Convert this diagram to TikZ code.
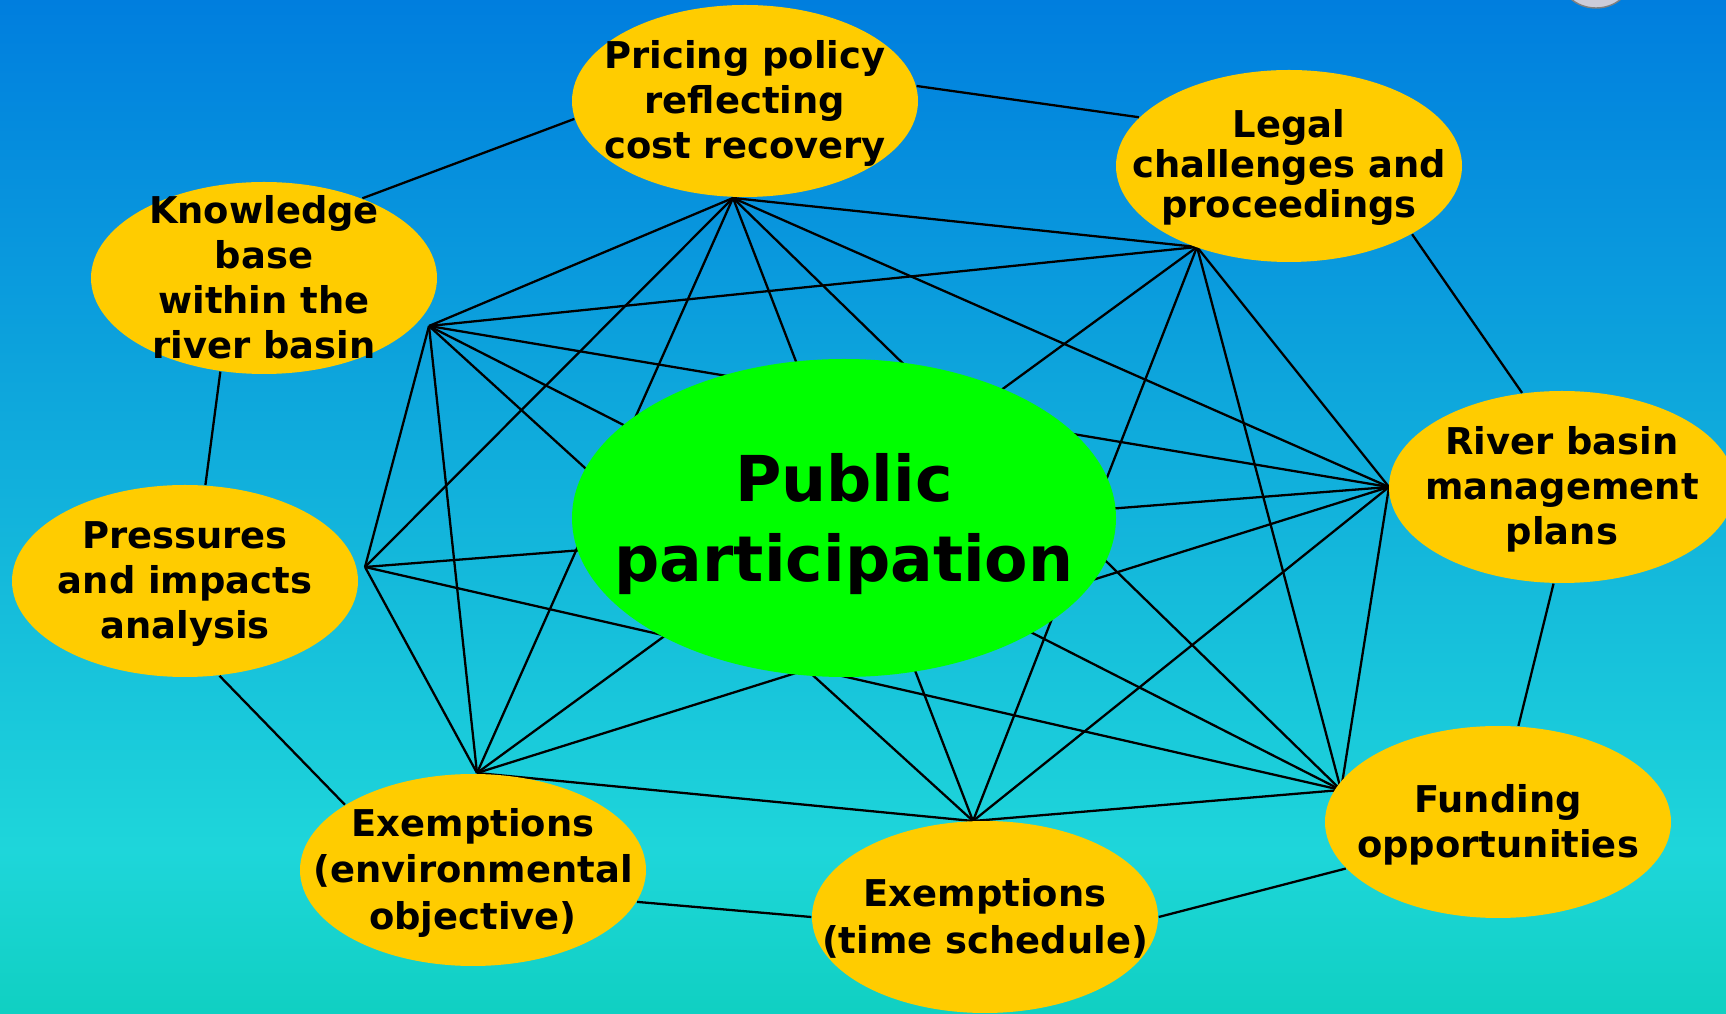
\documentclass[tikz,border=0pt]{standalone}
\usepackage{fontspec}
\setmainfont{DejaVu Sans}
\usetikzlibrary{shapes.geometric}

\definecolor{skytop}{RGB}{0,126,222}
\definecolor{skymid}{RGB}{30,214,218}
\definecolor{skybot}{RGB}{16,208,194}
\definecolor{blobyellow}{RGB}{255,204,0}
\definecolor{hubgreen}{RGB}{0,255,0}

% centred lines that do not widen the ellipse
\newcommand{\blobtxt}[1]{\smash{\makebox[0pt]{\raisebox{-0.36em}{\begin{tabular}{@{}c@{}}#1\end{tabular}}}}}

\tikzset{
  blob/.style={ellipse, fill=blobyellow, minimum width=3.46cm, minimum height=1.92cm,
    inner sep=0pt, font=\fontsize{10.5}{12.8}\selectfont\bfseries},
  hub/.style={ellipse, fill=hubgreen, minimum width=5.44cm, minimum height=3.18cm,
    inner sep=0pt, font=\fontsize{18}{22.8}\selectfont\bfseries},
  link/.style={black, line width=0.65pt}
}

\begin{document}
\begin{tikzpicture}
      \clip (0,0) rectangle (17.26,10.13);
      \shade[top color=skytop, bottom color=skymid] (0,1.62) rectangle (17.26,10.13);
      \shade[top color=skymid, bottom color=skybot] (0,0) rectangle (17.26,1.63);
      \draw[gray, fill=blue!15!gray!35] (15.96,10.35) ellipse [x radius=0.35, y radius=0.3];

      % meeting points of the web
      \coordinate (hprice) at (7.33,8.15);
      \coordinate (hlegal) at (11.97,7.66);
      \coordinate (hknow) at (4.29,6.87);
      \coordinate (hriver) at (13.89,5.26);
      \coordinate (hpress) at (3.65,4.46);
      \coordinate (hfund) at (13.41,2.23);
      \coordinate (hexenv) at (4.77,2.40);
      \coordinate (hextime) at (9.73,1.92);

      \draw[link] (hknow) -- (hprice);
      \draw[link] (hknow) -- (hlegal);
      \draw[link] (hknow) -- (hriver);
      \draw[link] (hknow) -- (hpress);
      \draw[link] (hknow) -- (hfund);
      \draw[link] (hknow) -- (hexenv);
      \draw[link] (hknow) -- (hextime);
      \draw[link] (hprice) -- (hlegal);
      \draw[link] (hprice) -- (hriver);
      \draw[link] (hprice) -- (hpress);
      \draw[link] (hprice) -- (hfund);
      \draw[link] (hprice) -- (hexenv);
      \draw[link] (hprice) -- (hextime);
      \draw[link] (hlegal) -- (hriver);
      \draw[link] (hlegal) -- (hfund);
      \draw[link] (hlegal) -- (hexenv);
      \draw[link] (hlegal) -- (hextime);
      \draw[link] (hriver) -- (hpress);
      \draw[link] (hriver) -- (hfund);
      \draw[link] (hriver) -- (hexenv);
      \draw[link] (hriver) -- (hextime);
      \draw[link] (hpress) -- (hfund);
      \draw[link] (hpress) -- (hexenv);
      \draw[link] (hfund) -- (hextime);
      \draw[link] (hexenv) -- (hextime);

      \node[hub] (public) at (8.44,4.95) {\blobtxt{Public\\participation}};

      \node[blob] (price) at (7.45,9.12) {\blobtxt{Pricing policy\\reflecting\\cost recovery}};
      \node[blob, font=\fontsize{10.5}{11.2}\selectfont\bfseries] (legal) at (12.89,8.47)
        {\blobtxt{Legal\\challenges and\\proceedings}};
      \node[blob] (know) at (2.64,7.35) {\blobtxt{Knowledge\\base\\within the\\river basin}};
      \node[blob] (river) at (15.62,5.26) {\blobtxt{River basin\\management\\plans}};
      \node[blob] (press) at (1.85,4.32) {\blobtxt{Pressures\\and impacts\\analysis}};
      \node[blob] (fund) at (14.98,1.91) {\blobtxt{Funding\\opportunities}};
      \node[blob, font=\fontsize{10.5}{13.2}\selectfont\bfseries] (exenv) at (4.73,1.43)
        {\blobtxt{Exemptions\\(environmental\\objective)}};
      \node[blob, font=\fontsize{10.5}{13.2}\selectfont\bfseries] (extime) at (9.85,0.96)
        {\blobtxt{Exemptions\\(time schedule)}};

      % the outer ring
      \draw[link] (know.39) -- (price.-174);
      \draw[link] (price.5) -- (legal.162);
      \draw[link] (legal.-29) -- (river.113);
      \draw[link] (river.-95) -- (fund.78);
      \draw[link] (fund.-163) -- (extime.0);
      \draw[link] (extime.180) -- (exenv.-11);
      \draw[link] (exenv.153) -- (press.-70);
      \draw[link] (press.78) -- (know.-115);
\end{tikzpicture}
\end{document}
